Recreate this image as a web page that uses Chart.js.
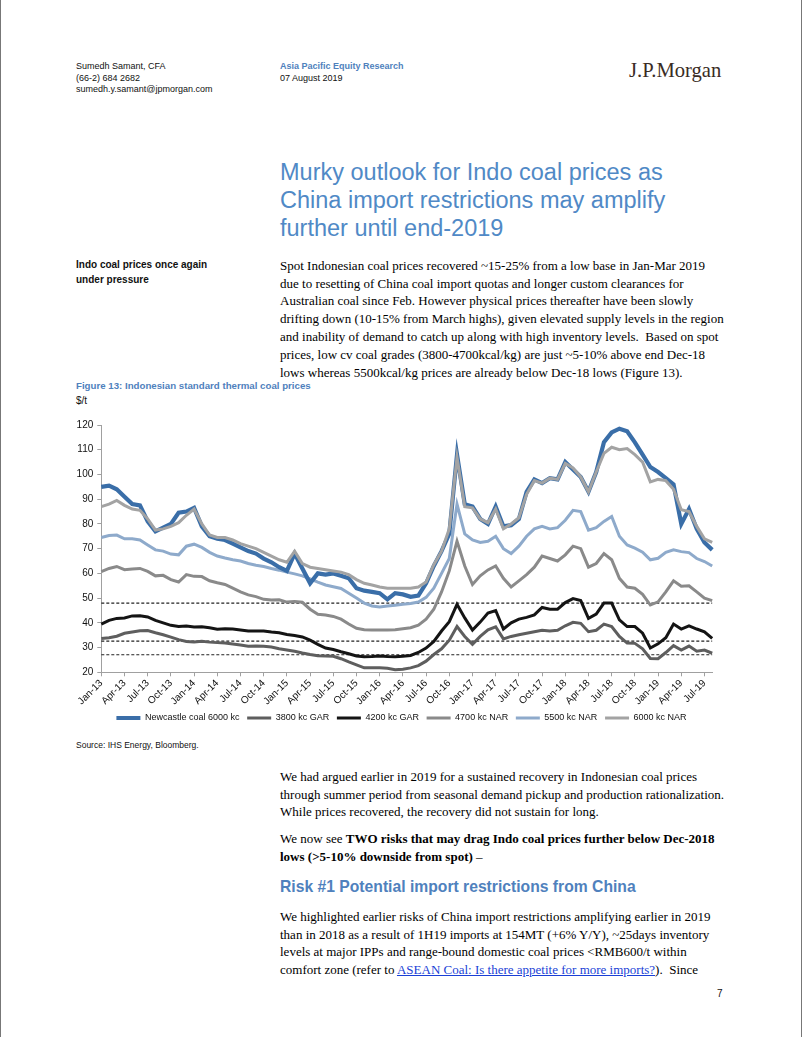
<!DOCTYPE html>
<html><head><meta charset="utf-8">
<script src="https://cdn.jsdelivr.net/npm/chart.js@4.4.0/dist/chart.umd.min.js"></script>
<style>
html,body{margin:0;padding:0;background:#fff;}
#page{position:relative;width:800px;height:1037px;overflow:hidden;background:#fff;border-left:1px solid #777;border-right:1px solid #777;font-family:"Liberation Sans",Arial,sans-serif;color:#111;}
.t{position:absolute;white-space:nowrap;line-height:1.2;}
.s9{font-size:9px;}
.s10{font-size:10px;}
.blue{color:#4f81bd;}
.b{font-weight:bold;}
.title{font-size:23.5px;color:#5089c6;}
.body{font-family:"Liberation Serif","Times New Roman",serif;font-size:13px;color:#000;}
.logo{font-family:"Liberation Serif",serif;font-size:20.6px;color:#3a2c25;}
.h2{font-size:15.7px;font-weight:bold;color:#4f81bd;}
a{color:#1a3fd6;text-decoration:underline;}
#chartbox{position:absolute;left:3px;top:410px;width:795px;height:330px;}
</style>
</head><body>
<div id="page">
  <div class="t s9" style="left:75px;top:61.3px">Sumedh Samant, CFA</div>
  <div class="t s9" style="left:75px;top:72.8px">(66-2) 684 2682</div>
  <div class="t s9" style="left:75px;top:84.3px">sumedh.y.samant@jpmorgan.com</div>
  <div class="t s9 b blue" style="left:279px;top:61.3px">Asia Pacific Equity Research</div>
  <div class="t s9" style="left:279px;top:72.8px">07 August 2019</div>
  <div class="t logo" style="left:628px;top:58px">J.P.Morgan</div>

  <div class="t title" style="left:279px;top:158px">Murky outlook for Indo coal prices as</div>
  <div class="t title" style="left:279px;top:186px">China import restrictions may amplify</div>
  <div class="t title" style="left:279px;top:214px">further until end-2019</div>

  <div class="t s10 b" style="left:75px;top:258.7px">Indo coal prices once again</div>
  <div class="t s10 b" style="left:75px;top:273.7px">under pressure</div>

  <div class="t body" style="left:279px;top:257.8px">Spot Indonesian coal prices recovered ~15-25% from a low base in Jan-Mar 2019</div>
  <div class="t body" style="left:279px;top:275.6px">due to resetting of China coal import quotas and longer custom clearances for</div>
  <div class="t body" style="left:279px;top:293.4px">Australian coal since Feb. However physical prices thereafter have been slowly</div>
  <div class="t body" style="left:279px;top:311.2px">drifting down (10-15% from March highs), given elevated supply levels in the region</div>
  <div class="t body" style="left:279px;top:329px">and inability of demand to catch up along with high inventory levels.&nbsp; Based on spot</div>
  <div class="t body" style="left:279px;top:346.8px">prices, low cv coal grades (3800-4700kcal/kg) are just ~5-10% above end Dec-18</div>
  <div class="t body" style="left:279px;top:364.6px">lows whereas 5500kcal/kg prices are already below Dec-18 lows (Figure 13).</div>

  <div class="t b blue" style="left:75px;top:380px;font-size:9.7px">Figure 13: Indonesian standard thermal coal prices</div>
  <div class="t s10" style="left:75px;top:394.7px">$/t</div>

  <div id="chartbox"><canvas id="c" width="795" height="330"></canvas></div>

  <div class="t" style="left:75px;top:739.6px;font-size:8.5px">Source: IHS Energy, Bloomberg.</div>

  <div class="t body" style="left:279px;top:768.8px">We had argued earlier in 2019 for a sustained recovery in Indonesian coal prices</div>
  <div class="t body" style="left:279px;top:786.6px">through summer period from seasonal demand pickup and production rationalization.</div>
  <div class="t body" style="left:279px;top:804.4px">While prices recovered, the recovery did not sustain for long.</div>

  <div class="t body" style="left:279px;top:830.8px">We now see <b>TWO risks that may drag Indo coal prices further below Dec-2018</b></div>
  <div class="t body" style="left:279px;top:848.6px"><b>lows (&gt;5-10% downside from spot)</b> –</div>

  <div class="t h2" style="left:279px;top:877.6px">Risk #1 Potential import restrictions from China</div>

  <div class="t body" style="left:279px;top:908.8px">We highlighted earlier risks of China import restrictions amplifying earlier in 2019</div>
  <div class="t body" style="left:279px;top:926.6px">than in 2018 as a result of 1H19 imports at 154MT (+6% Y/Y), ~25days inventory</div>
  <div class="t body" style="left:279px;top:944.4px">levels at major IPPs and range-bound domestic coal prices &lt;RMB600/t within</div>
  <div class="t body" style="left:279px;top:962.2px">comfort zone (refer to <a>ASEAN Coal: Is there appetite for more imports?</a>).&nbsp; Since</div>

  <div class="t s10" style="left:716px;top:987.7px">7</div>
</div>
<script>
// ---- data (monthly, Jan-13 .. Aug-19) ----
const MONTHS = ["Jan","Feb","Mar","Apr","May","Jun","Jul","Aug","Sep","Oct","Nov","Dec"];
const YEARS = ["13","14","15","16","17","18","19"];
const categories = [];
for (const y of YEARS) for (const m of MONTHS) { if (categories.length < 80) categories.push(m + "-" + y); }
const TICK_MONTHS = ["Jan","Apr","Jul","Oct"];

const newcastle6000 = [
  95, 95.5, 94, 91, 88, 87.5, 81, 77, 78.5, 80,
  84.5, 85, 86.5, 79, 75, 74, 73.5, 72, 70.5, 69,
  68, 66, 64.5, 62.5, 61, 68, 62, 56, 60, 59.5,
  60, 59, 58, 54, 53, 52.5, 52, 49.5, 52, 51.5,
  50.5, 51, 56, 63, 69, 76, 108, 88, 87, 82,
  80, 87, 79, 79.5, 82, 93, 98, 96.5, 98.5, 98,
  105, 102, 99, 93, 101, 113, 117, 118.5, 117.5, 113,
  108, 103, 101, 98.5, 96, 80, 86, 78, 72.5, 69.5];
const gar3800 = [
  33.7, 34, 34.6, 35.8, 36.3, 36.8, 36.9, 36, 35.2, 34.2,
  33.2, 32.5, 32.3, 32.6, 32.2, 32, 31.8, 31.4, 31, 30.5,
  30.6, 30.5, 30.2, 29.5, 29, 28.5, 27.8, 27.2, 26.7, 26.6,
  26.5, 25.5, 24.2, 23, 21.8, 21.8, 21.8, 21.6, 21, 21.2,
  21.8, 22.7, 24.5, 27.2, 29.5, 33, 38.5, 34.5, 31.3, 34.5,
  37.2, 38.4, 33.5, 34.5, 35.2, 35.8, 36.4, 37, 36.7, 37,
  38.8, 40.2, 39.8, 36.4, 37, 39.5, 38.5, 34.5, 31.8, 31.7,
  29.5, 25.6, 25.5, 28, 30.8, 29, 30.6, 28.5, 29, 27.7];
const gar4200 = [
  39.5, 41, 41.8, 42, 42.8, 42.9, 42.4, 41, 40, 39,
  38.5, 38.7, 38.3, 38.4, 38, 37.4, 37.6, 37.5, 37.1, 36.7,
  36.7, 36.7, 36.3, 36, 35.3, 34.9, 34.3, 33, 31.3, 29.8,
  29.2, 28.3, 27.5, 26.6, 26.3, 26.4, 26.6, 26.4, 26.3, 26.5,
  26.8, 28, 29.8, 32.5, 36.7, 40.5, 47.5, 42, 37.1, 40.3,
  44, 45, 37.5, 40, 41.5, 42.2, 43.2, 46.2, 45.5, 45.5,
  48.2, 49.8, 49, 41.8, 43.5, 48, 48, 41.2, 38.5, 38.5,
  35.8, 29.8, 31.5, 34, 39.5, 37.5, 38.8, 37.5, 36.4, 33.7];
const nar4700 = [
  60.7, 62, 62.8, 61.5, 61.8, 62, 60.8, 59, 59.2, 57.5,
  56.5, 59.5, 58.8, 58.7, 57, 56.2, 55.5, 54, 52.5, 51.3,
  50.6, 49.5, 49.2, 49.3, 48.4, 48.6, 48.3, 45.5, 43.5, 43.2,
  42.6, 41.5, 39.5, 37.8, 37.2, 37.1, 37.1, 37.1, 37.2, 37.6,
  38, 39.1, 41.5, 45.5, 52.5, 61, 73, 63, 55.5, 59,
  61.4, 63, 58, 54.5, 57, 59.5, 62.5, 67, 66, 65,
  67.5, 71, 70, 62.5, 64, 68, 65.5, 58, 54.5, 54,
  51.5, 47.2, 48.5, 52.5, 57, 54.8, 55, 52.5, 50, 49];
const nar5500 = [
  74.5, 75.3, 75.5, 74, 74, 73.5, 71.5, 69.5, 69, 67.8,
  67.5, 71, 71.8, 70.5, 68.5, 67, 66.2, 65.5, 65, 64,
  63.3, 62.8, 62, 61.3, 60.5, 59.8, 59, 57.8, 56.5, 55.3,
  54.6, 53.9, 52, 50, 48, 46.8, 46.4, 46.8, 47.1, 47.5,
  47.8, 48.4, 50.3, 54, 60, 66, 88, 76, 73.5, 72.5,
  73, 75, 70, 68, 71, 75, 78, 79, 78, 78.5,
  81.5, 85.5, 85, 77.5, 78.5, 81, 83, 75, 71.5, 70.2,
  68.6, 65.5, 66.1, 68.5, 69.5, 68.8, 68.4, 66, 64.8, 63];
const nar6000 = [
  87, 88, 89.5, 87.5, 86, 85.5, 82, 77.5, 78, 79,
  80.5, 83.5, 86, 80, 75.5, 74.5, 74.5, 73.5, 72, 71,
  70, 68.5, 67, 65.5, 64.5, 69, 64, 62.5, 62, 61.5,
  61, 60.5, 59.5, 57.5, 56, 55.3, 54.5, 54, 54, 54,
  54, 54.5, 56.5, 63.5, 69, 78, 107, 87, 86.5, 82,
  80.5, 86, 78, 80, 82.5, 92, 97.5, 96.5, 98.5, 98,
  104.5, 102.6, 99, 93, 101, 108.5, 111, 110, 110.5, 108,
  105, 97, 98, 97.5, 94, 85.7, 85, 79, 74, 72.5];
// Dec-18 low reference levels (dashed lines)
const refLevels = [48, 32.6, 27.1];
const Y_TICKS = {min: 20, max: 120, step: 10};

const series = [
  {label: "Newcastle coal 6000 kc", data: newcastle6000, color: "#3a6ea8", width: 4.2, order: 2},
  {label: "3800 kc GAR", data: gar3800, color: "#5e5e5e", width: 3, order: 3},
  {label: "4200 kc GAR", data: gar4200, color: "#141414", width: 3, order: 3},
  {label: "4700 kc NAR", data: nar4700, color: "#8a8a8a", width: 3, order: 3},
  {label: "5500 kc NAR", data: nar5500, color: "#8eaacb", width: 3, order: 3},
  {label: "6000 kc NAR", data: nar6000, color: "#a3a3a3", width: 3, order: 1}
];
const datasets = series.map(s => ({
  label: s.label, data: s.data, borderColor: s.color, backgroundColor: s.color,
  borderWidth: s.width, pointRadius: 0, tension: 0, order: s.order, yAxisID: 'y'
}));
refLevels.forEach((v, i) => datasets.push({
  label: "ref" + i, data: categories.map(() => v), borderColor: "#222", borderWidth: 1.2,
  borderDash: [3, 2], pointRadius: 0, order: 5, isRef: true, yAxisID: 'y'
}));

new Chart(document.getElementById('c'), {
  type: 'line',
  data: {labels: categories, datasets},
  options: {
    responsive: false, animation: false, devicePixelRatio: 1,
    layout: {padding: {top: 15, bottom: 7.5, left: 0, right: 0}},
    plugins: {
      tooltip: {enabled: false},
      legend: {
        position: 'bottom',
        labels: {
          usePointStyle: true, pointStyle: 'line', pointStyleWidth: 24,
          font: {family: "'Liberation Sans', Arial, sans-serif", size: 9}, color: '#111', padding: 7.7,
          filter: (item, data) => !data.datasets[item.datasetIndex].isRef,
          sort: (a, b) => a.datasetIndex - b.datasetIndex
        }
      }
    },
    scales: {
      x: {
        type: 'category', offset: false,
        grid: {drawOnChartArea: false, drawTicks: true, tickLength: 4, color: '#a0a0a0'},
        border: {display: true, color: '#a0a0a0', width: 1},
        ticks: {
          autoSkip: false, maxRotation: 45, minRotation: 45, padding: 1, color: '#111',
          font: {family: "'Liberation Sans', Arial, sans-serif", size: 10},
          callback: function(v, i) {
            const lab = categories[i];
            return TICK_MONTHS.includes(lab.slice(0, 3)) ? lab : null;
          }
        },
        afterFit: s => { s.height = 33.5; }
      },
      y: {
        position: 'left', min: Y_TICKS.min, max: Y_TICKS.max,
        grid: {drawOnChartArea: false, drawTicks: true, tickLength: 4, color: '#a0a0a0'},
        border: {display: true, color: '#a0a0a0', width: 1},
        ticks: {stepSize: Y_TICKS.step, padding: 4, color: '#111',
          font: {family: "'Liberation Sans', Arial, sans-serif", size: 10}},
        afterFit: s => { s.width = 97.3; }
      },
      y2: {
        position: 'right', display: true,
        grid: {display: false}, border: {display: false}, ticks: {display: false},
        afterFit: s => { s.width = 86.8; }
      }
    }
  }
});
</script>
</body></html>
